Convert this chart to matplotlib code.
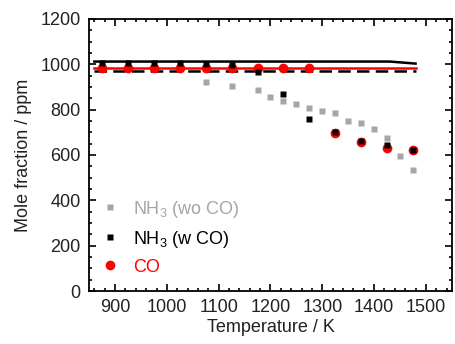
import matplotlib
matplotlib.use("Agg")
import matplotlib.pyplot as plt
from matplotlib.ticker import MultipleLocator

plt.rcParams['font.family'] = ['Liberation Sans', 'DejaVu Sans']
plt.rcParams['mathtext.fontset'] = 'custom'
plt.rcParams['mathtext.rm'] = 'Liberation Sans'

# Data
T_wo = [1075, 1125, 1175, 1200, 1225, 1250, 1275, 1300, 1325, 1350, 1375, 1400, 1425, 1450, 1475]
nh3_wo = [923, 903, 885, 857, 838, 825, 807, 794, 783, 750, 741, 714, 675, 596, 534]

T_pts = [875, 925, 975, 1025, 1075, 1125, 1175, 1225, 1275, 1325, 1375, 1425, 1475]
nh3_w = [1005, 1005, 1005, 1005, 1000, 998, 966, 869, 759, 700, 662, 644, 622]
co = [982, 982, 982, 982, 982, 982, 982, 982, 982, 697, 657, 631, 622]

T_line = [860, 1430, 1480]
nh3_w_model = [1012, 1012, 1003]
co_model = [985, 985, 985]
nh3_wo_model = [972, 972, 972]

fig = plt.figure(figsize=(4.55, 3.44), dpi=100)
ax = fig.add_axes([0.196, 0.154, 0.797, 0.791])

ax.plot(T_line, nh3_wo_model, color='black', lw=1.8, ls=(0, (5, 2.5)))
ax.plot(T_line, nh3_w_model, color='black', lw=1.8)
ax.plot(T_line, co_model, color='#ff0000', lw=1.8)

ax.plot(T_wo, nh3_wo, ls='none', marker='s', ms=3.8, color='#a6a6a6', mec='none',
        label='NH$_3$ (wo CO)')
ax.plot(T_pts, co, ls='none', marker='o', ms=7, color='#ff0000', mec='none', label='CO')
ax.plot(T_pts, nh3_w, ls='none', marker='s', ms=3.8, color='black', mec='none',
        label='NH$_3$ (w CO)')

ax.set_xlim(850, 1550)
ax.set_ylim(0, 1200)
ax.xaxis.set_major_locator(MultipleLocator(100))
ax.xaxis.set_minor_locator(MultipleLocator(20))
ax.yaxis.set_major_locator(MultipleLocator(200))
ax.yaxis.set_minor_locator(MultipleLocator(50))
ax.set_xticks([900, 1000, 1100, 1200, 1300, 1400, 1500])
ax.tick_params(which='both', direction='in', top=True, right=True, labelsize=13,
               width=1.2, labelcolor='#222222')
ax.tick_params(which='major', length=5, pad=6)
ax.tick_params(which='minor', length=2.5)
for s in ax.spines.values():
    s.set_linewidth(1.3)

ax.set_xlabel('Temperature / K', fontsize=13, labelpad=2, color='#222222')
ax.set_ylabel('Mole fraction / ppm', fontsize=13, labelpad=6, color='#222222')

handles, labels = ax.get_legend_handles_labels()
order = [0, 2, 1]
leg = ax.legend([handles[i] for i in order], [labels[i] for i in order],
                loc='lower left', bbox_to_anchor=(0.0, 0.0), frameon=False,
                fontsize=13, handlelength=0.6, handletextpad=1.0,
                labelspacing=0.5, borderaxespad=0.45)
for txt, c in zip(leg.get_texts(), ['#a6a6a6', 'black', '#ff0000']):
    txt.set_color(c)

fig.savefig('out.png', dpi=100)
